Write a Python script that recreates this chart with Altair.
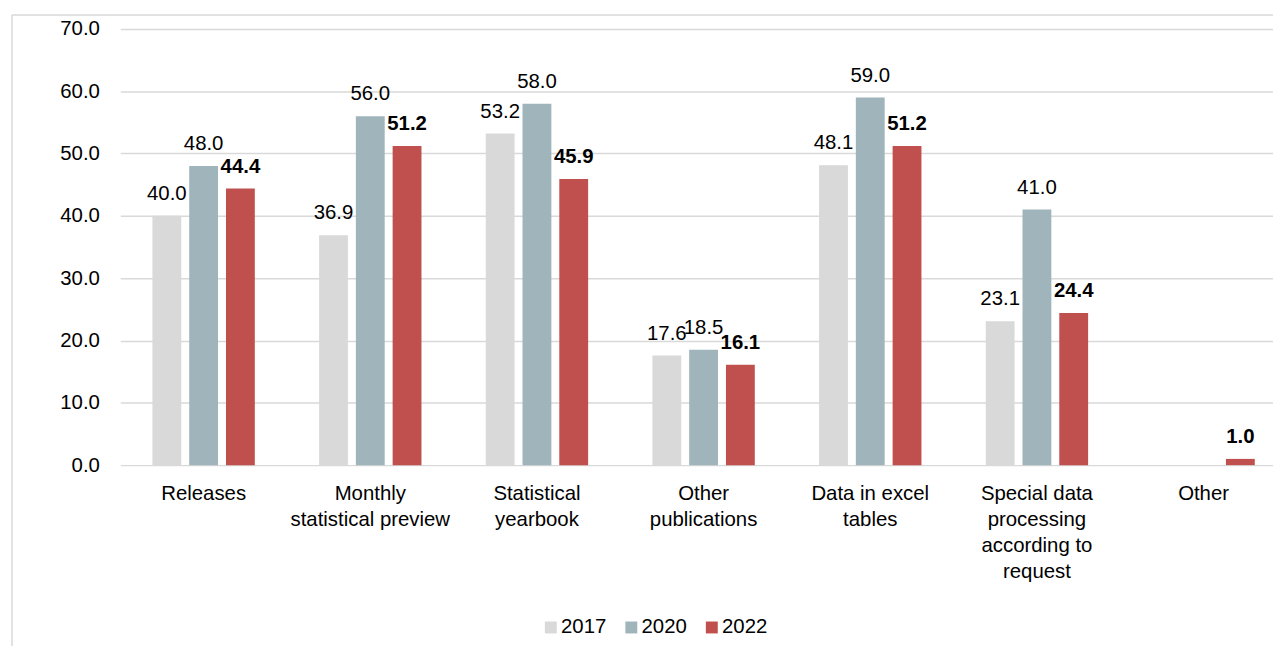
import altair as alt
import pandas as pd

categories = ["Releases", "Monthly statistical preview", "Statistical yearbook",
              "Other publications", "Data in excel tables",
              "Special data processing according to request", "Other"]
label_lines = [["Releases"], ["Monthly", "statistical preview"], ["Statistical", "yearbook"],
               ["Other", "publications"], ["Data in excel", "tables"],
               ["Special data", "processing", "according to", "request"], ["Other"]]
years = ["2017", "2020", "2022"]
v2017 = [40.0, 36.9, 53.2, 17.6, 48.1, 23.1, None]
v2020 = [48.0, 56.0, 58.0, 18.5, 59.0, 41.0, None]
v2022 = [44.4, 51.2, 45.9, 16.1, 51.2, 24.4, 1.0]
colors = ["#d9d9d9", "#a0b4bb", "#c0504d"]

rows = []
for i, c in enumerate(categories):
    for y, vals in zip(years, [v2017, v2020, v2022]):
        if vals[i] is not None:
            rows.append({"category": c, "year": y, "value": vals[i]})
df = pd.DataFrame(rows)

W, H = 1160, 439
RANGE_W = 1174
FS = 20.5

expr = ""
for c, lines in zip(categories, label_lines):
    arr = "[" + ",".join("'" + l + "'" for l in lines) + "]"
    expr += f"datum.value == '{c}' ? {arr} : "
expr += "datum.value"

x = alt.X("category:N", sort=categories, title=None,
          scale=alt.Scale(range=[0, RANGE_W], paddingInner=0, paddingOuter=0),
          axis=alt.Axis(labelAngle=0, labelExpr=expr, labelFontSize=FS, labelColor="#000000",
                        labelFont="Liberation Sans", labelLineHeight=26, labelPadding=19,
                        labelBaseline="top", ticks=False, domain=False, grid=False,
                        labelLimit=300))
xo = alt.XOffset("year:N", sort=years,
                 scale=alt.Scale(paddingInner=0.216, paddingOuter=0.874))
yenc = alt.Y("value:Q", title=None,
             scale=alt.Scale(domain=[0, 70]),
             axis=alt.Axis(values=[0, 10, 20, 30, 40, 50, 60, 70], format=".1f",
                           labelFontSize=FS, labelColor="#000000", labelFont="Liberation Sans",
                           labelPadding=21, ticks=False, domain=False,
                           grid=True, gridColor="#d9d9d9", gridWidth=1.5))

base = alt.Chart(df)
bars = base.mark_bar().encode(
    x=x, xOffset=xo, y=yenc,
    color=alt.Color("year:N", sort=years,
                    scale=alt.Scale(domain=years, range=colors),
                    legend=alt.Legend(title=None, orient="none", direction="horizontal",
                                      legendX=423, legendY=592, labelFontSize=FS,
                                      labelFont="Liberation Sans", labelColor="#000000",
                                      symbolType="square", symbolSize=144, symbolStrokeWidth=0,
                                      columnPadding=14, labelOffset=0)),
)
txt_normal = base.transform_filter("datum.year != '2022'").mark_text(
    baseline="alphabetic", dy=-16, fontSize=FS, font="Liberation Sans", color="#000000"
).encode(x=x, xOffset=xo, y=yenc, text=alt.Text("value:Q", format=".1f"))
txt_bold = base.transform_filter("datum.year == '2022'").mark_text(
    baseline="alphabetic", dy=-16, fontSize=FS, font="Liberation Sans", color="#000000",
    fontWeight="bold"
).encode(x=x, xOffset=xo, y=yenc, text=alt.Text("value:Q", format=".1f"))

frame_left = alt.Chart(pd.DataFrame({"k": [0]})).mark_rule(color="#d9d9d9", strokeWidth=1.5).encode(
    x=alt.value(-109), y=alt.value(-14), y2=alt.value(H + 190))
frame_top = alt.Chart(pd.DataFrame({"k": [0]})).mark_rule(color="#d9d9d9", strokeWidth=1.5).encode(
    x=alt.value(-109), x2=alt.value(W + 10), y=alt.value(-14))

chart = alt.layer(bars, txt_normal, txt_bold, frame_left, frame_top).properties(
    width=W, height=H,
    background="white",
    autosize=alt.AutoSizeParams(type="none"),
    padding={"left": 113, "top": 19, "right": 0, "bottom": 180},
).configure_view(strokeWidth=0, stroke="transparent")

chart.save("out.html", embed_options={"renderer": "svg", "actions": False})
